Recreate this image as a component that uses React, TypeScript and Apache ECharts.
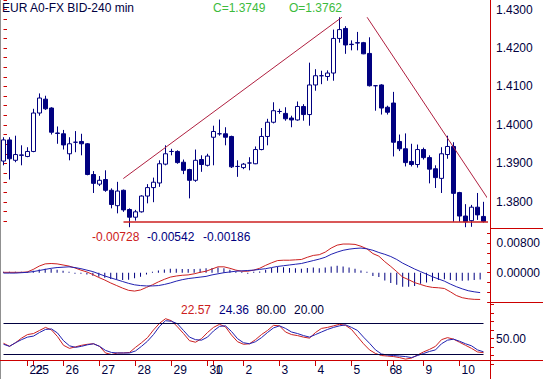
import React, { useEffect, useRef } from 'react';
import * as echarts from 'echarts';

// ---- price candles (240 min) ----
const opens = [1.3906, 1.3961, 1.3908, 1.3922, 1.3918, 1.3931, 1.4031, 1.4067, 1.4044, 1.3979,
  1.3977, 1.3925, 1.3955, 1.3957, 1.3951, 1.3871, 1.3846, 1.3858, 1.3830, 1.3790,
  1.3830, 1.3780, 1.3760, 1.3774, 1.3815, 1.3837, 1.3849, 1.3898, 1.3931, 1.3931,
  1.3903, 1.3884, 1.3856, 1.3910, 1.3895, 1.3968, 1.3977, 1.3977, 1.3970, 1.3892,
  1.3889, 1.3901, 1.3899, 1.3936, 1.3970, 1.4007, 1.4035, 1.4030, 1.4018, 1.4013,
  1.4048, 1.4027, 1.4104, 1.4128, 1.4126, 1.4135, 1.4225, 1.4251, 1.4210, 1.4214,
  1.4214, 1.4186, 1.4102, 1.4104, 1.4046, 1.4057, 1.3957, 1.3938, 1.3905, 1.3897,
  1.3936, 1.3915, 1.3886, 1.3861, 1.3923, 1.3944, 1.3824, 1.3763, 1.3751, 1.3786,
  1.3762];
const closes = [1.3961, 1.3912, 1.3923, 1.3921, 1.3931, 1.4031, 1.4070, 1.4042, 1.3981, 1.3978,
  1.3948, 1.3951, 1.3955, 1.3951, 1.3871, 1.3848, 1.3856, 1.3830, 1.3793, 1.3828,
  1.3779, 1.3760, 1.3774, 1.3815, 1.3837, 1.3851, 1.3899, 1.3925, 1.3931, 1.3902,
  1.3882, 1.3856, 1.3908, 1.3897, 1.3919, 1.3983, 1.3977, 1.3968, 1.3891, 1.3892,
  1.3898, 1.3901, 1.3936, 1.3970, 1.4007, 1.4037, 1.4035, 1.4016, 1.4013, 1.4048,
  1.4027, 1.4104, 1.4128, 1.4128, 1.4135, 1.4225, 1.4248, 1.4208, 1.4209, 1.4213,
  1.4185, 1.4102, 1.4102, 1.4044, 1.4033, 1.3955, 1.3938, 1.3902, 1.3897, 1.3936,
  1.3915, 1.3885, 1.3863, 1.3925, 1.3944, 1.3822, 1.3763, 1.3748, 1.3786, 1.3766,
  1.3749];
const lows = [1.3895, 1.3858, 1.3903, 1.3895, 1.3916, 1.3929, 1.4024, 1.4039, 1.3975, 1.3951,
  1.3936, 1.3908, 1.3929, 1.3921, 1.3869, 1.3823, 1.3841, 1.3826, 1.3783, 1.3770,
  1.3774, 1.3734, 1.3751, 1.3772, 1.3796, 1.3799, 1.3839, 1.3895, 1.3921, 1.3899,
  1.3872, 1.3809, 1.3852, 1.3878, 1.3892, 1.3895, 1.3972, 1.3947, 1.3888, 1.3865,
  1.3885, 1.3882, 1.3898, 1.3934, 1.3947, 1.4004, 1.4029, 1.4011, 1.3994, 1.4011,
  1.4011, 1.3998, 1.4089, 1.4106, 1.4115, 1.4115, 1.4214, 1.4185, 1.4194, 1.4194,
  1.4184, 1.4100, 1.4037, 1.4027, 1.4027, 1.3918, 1.3932, 1.3892, 1.3892, 1.3889,
  1.3910, 1.3848, 1.3836, 1.3823, 1.3912, 1.3748, 1.3748, 1.3734, 1.3735, 1.3753,
  1.3746];
const highs = [1.3968, 1.3968, 1.3972, 1.3947, 1.3942, 1.4042, 1.4082, 1.4076, 1.4046, 1.3996,
  1.3987, 1.3968, 1.3984, 1.3977, 1.3953, 1.3880, 1.3867, 1.3882, 1.3835, 1.3852,
  1.3832, 1.3783, 1.3779, 1.3817, 1.3846, 1.3863, 1.3908, 1.3947, 1.3938, 1.3934,
  1.3910, 1.3886, 1.3936, 1.3921, 1.3925, 1.3998, 1.4014, 1.3994, 1.3972, 1.3908,
  1.3901, 1.3916, 1.3944, 1.3992, 1.4016, 1.4059, 1.4042, 1.4046, 1.4024, 1.4061,
  1.4054, 1.4162, 1.4145, 1.4141, 1.4142, 1.4248, 1.4280, 1.4257, 1.4220, 1.4242,
  1.4216, 1.4228, 1.4103, 1.4106, 1.4050, 1.4086, 1.3975, 1.3978, 1.3951, 1.3949,
  1.3941, 1.3921, 1.3895, 1.3942, 1.3972, 1.3955, 1.3826, 1.3794, 1.3792, 1.3823,
  1.3800];

// ---- day ticks on the time axis ----
const dayTickIdx = [4, 5, 10, 16, 22, 28, 34, 35, 40, 46, 52, 58, 64, 65, 70, 76];
const dayLabels = ['22', '25', '26', '27', '28', '29', '30', '1', '2', '3', '4', '5', '6', '8', '9', '10'];

// ---- drawn lines on the price panel: [candle index, price] ----
const upTrend = [[19.97, 1.38605], [56.4, 1.42801]];
const downTrend = [[60.6, 1.42801], [80.8, 1.38062]];
const supportLine = [[20.0, 1.37475], [81.2, 1.37475]];

// ---- MACD panel ----
const macdLine = [0.0001, 0.0001, 0.0001, 0.0001, 0.0002, 0.0009, 0.0018, 0.0024, 0.0025, 0.0024,
  0.0021, 0.0018, 0.0013, 0.0007, 0.0002, -0.0005, -0.0013, -0.0020, -0.0028, -0.0035,
  -0.0042, -0.0048, -0.0050, -0.0047, -0.0040, -0.0033, -0.0025, -0.0018, -0.0012, -0.0009,
  -0.0007, -0.0006, -0.0003, 0.0001, 0.0004, 0.0010, 0.0016, 0.0016, 0.0012, 0.0007,
  0.0004, 0.0004, 0.0007, 0.0012, 0.0020, 0.0027, 0.0033, 0.0034, 0.0034, 0.0035,
  0.0036, 0.0042, 0.0047, 0.0049, 0.0056, 0.0067, 0.0075, 0.0078, 0.0078, 0.0077,
  0.0072, 0.0065, 0.0052, 0.0045, 0.0030, 0.0017, 0.0003, -0.0012, -0.0019, -0.0027,
  -0.0032, -0.0037, -0.0040, -0.0041, -0.0043, -0.0052, -0.0062, -0.0068, -0.0071, -0.00725,
  -0.00728];
const signalLine = [-0.0001, -0.0001, -0.0001, 0, 0.0001, 0.0003, 0.0006, 0.0009, 0.0012, 0.0014,
  0.0015, 0.0016, 0.0014, 0.0011, 0.0007, 0.0003, -0.0003, -0.0009, -0.0014, -0.0019,
  -0.0024, -0.0029, -0.0033, -0.0035, -0.0036, -0.0036, -0.0035, -0.0032, -0.0028, -0.0023,
  -0.0019, -0.0016, -0.0014, -0.0012, -0.0010, -0.0006, -0.0003, 0, 0.0002, 0.0004,
  0.0005, 0.0006, 0.0007, 0.0009, 0.0011, 0.0014, 0.0017, 0.0019, 0.0021, 0.0023,
  0.0025, 0.0029, 0.0033, 0.0037, 0.0042, 0.0050, 0.0056, 0.0061, 0.0064, 0.0066,
  0.0067, 0.0065, 0.0061, 0.0055, 0.0050, 0.0044, 0.0036, 0.0026, 0.0018, 0.0010,
  0.0003, -0.0004, -0.0011, -0.0017, -0.0023, -0.0031, -0.0038, -0.0044, -0.0049, -0.0052,
  -0.00542];
const macdHist = [0.0001, 0.0001, 0.0002, 0.0001, 0.0001, 0.0005, 0.0009, 0.0011, 0.0010, 0.0008,
  0.0005, 0.0002, -0.0001, -0.0003, -0.0005, -0.0008, -0.0011, -0.0014, -0.0017, -0.0019,
  -0.0020, -0.0019, -0.0015, -0.0011, -0.0005, 0.0001, 0.0006, 0.0009, 0.0011, 0.0011,
  0.0010, 0.0010, 0.0010, 0.0011, 0.0012, 0.0013, 0.0014, 0.0012, 0.0008, 0.0003,
  0, -0.0001, 0, 0.0003, 0.0008, 0.0013, 0.0016, 0.0015, 0.0013, 0.0012,
  0.0011, 0.0013, 0.0014, 0.0012, 0.0014, 0.0017, 0.0019, 0.0017, 0.0014, 0.0011,
  0.0006, 0, -0.0009, -0.0012, -0.0021, -0.0028, -0.0033, -0.0038, -0.0038, -0.0036,
  -0.0030, -0.0027, -0.0023, -0.0020, -0.0018, -0.0020, -0.0022, -0.0022, -0.0021, -0.0020,
  -0.00186];

// ---- Stochastic panel ----
const stochK = [41, 35, 42, 51, 58, 60, 66, 72, 67, 54,
  37, 31, 34, 37, 39, 40, 35, 22, 19, 22,
  22, 23, 33, 42, 52, 67, 80, 89, 85, 73,
  60, 46, 43, 50, 62, 72, 78, 73, 57, 44,
  39, 40, 48, 58, 66, 76, 75, 63, 58, 56,
  53, 51, 62, 70, 72, 75, 78, 76, 68, 54,
  40, 28, 21, 17, 16, 15, 13, 10, 12, 18,
  24, 29, 35, 48, 52, 49, 43, 37, 31, 24,
  22.57];
const stochD = [39, 35, 42, 48, 53, 55, 62, 68, 69, 61,
  46, 36, 33, 35, 38, 40, 35, 27, 23, 22,
  22, 22, 26, 35, 45, 58, 74, 85, 84, 79,
  66, 53, 48, 47, 53, 65, 74, 75, 64, 50,
  42, 40, 44, 52, 62, 71, 75, 70, 63, 60,
  56, 53, 58, 63, 68, 72, 75, 77, 72, 66,
  53, 41, 28, 20, 18, 17, 16, 15, 13, 17,
  21, 25, 28, 40, 47, 49, 45, 40, 36, 28,
  24.36];
const stochLevels = [80, 20];

const TITLE = 'EUR A0-FX BID-240 min';

const FONT = '"Liberation Sans", Arial, sans-serif';
const NAVY = '#000080';
const TXT = '#000040';
const AXRED = '#cc0000';
const LRED = '#cc2020';
const LBLUE = '#2020b0';
const GREEN = '#3cbb3c';

export default function App() {
  const ref = useRef<HTMLDivElement>(null);
  useEffect(() => {
    if (!ref.current) return;
    const chart = echarts.init(ref.current, undefined, { renderer: 'svg' });
    const N = opens.length;
    const idx = opens.map((_, i) => String(i));
    const last = N - 1;
    const near = (a: number, b: number) => Math.abs(a - b) < 1e-7;
    const gl = { left: 0.5, width: 486 };
    const tickStyle = { show: true, length: 3.5, lineStyle: { color: AXRED, width: 1 } };
    const lbl = { color: TXT, fontSize: 12, fontFamily: FONT };
    // an empty leading label keeps ECharts' min-label overlap rule away from "22"/"25"
    const labelIdx = [0, ...dayTickIdx];

    const option: any = {
      animation: false,
      backgroundColor: '#ffffff',
      grid: [
        { ...gl, top: -1.37, height: 222.41 },
        { ...gl, top: 233.5, height: 68.6 },
        { ...gl, top: 304.54, height: 59.69 },
        { ...gl, top: 302.7, height: 57.3 },
      ],
      xAxis: [
        { type: 'category', gridIndex: 0, data: idx, show: false },
        { type: 'category', gridIndex: 1, data: idx, show: false },
        { type: 'category', gridIndex: 2, data: idx, show: false },
        { type: 'value', gridIndex: 0, min: -0.5, max: N - 0.5, show: false },
        {
          type: 'category', gridIndex: 3, data: idx, position: 'bottom',
          axisLine: { show: false },
          axisTick: {
            show: true, alignWithLabel: true, length: 6,
            interval: (i: number) => dayTickIdx.indexOf(i) >= 0,
            lineStyle: { color: AXRED, width: 1 },
          },
          axisLabel: {
            ...lbl, align: 'left', margin: 4, padding: [0, 0, 0, 2],
            hideOverlap: false,
            interval: (i: number) => labelIdx.indexOf(i) >= 0,
            formatter: (_v: string, i: number) => {
              const k = dayTickIdx.indexOf(i);
              return k >= 0 ? dayLabels[k] : '';
            },
          },
          splitLine: { show: false },
        },
      ],
      yAxis: [
        {
          type: 'value', gridIndex: 0, position: 'right', offset: 4,
          min: 1.375, max: 1.4325, interval: 0.0025,
          axisLine: { show: false }, axisTick: tickStyle, splitLine: { show: false },
          axisLabel: {
            ...lbl, margin: 5.5, showMinLabel: true, showMaxLabel: true,
            formatter: (v: number) => (near(v * 100, Math.round(v * 100)) ? v.toFixed(4) : ''),
          },
        },
        {
          type: 'value', gridIndex: 1, position: 'right', offset: 4,
          min: -0.008, max: 0.032 / 3, interval: 0.008 / 3,
          axisLine: { show: false }, axisTick: tickStyle, splitLine: { show: false },
          axisLabel: {
            ...lbl, margin: 9.5,
            formatter: (v: number) => (near(v, 0.008) ? '0.00800' : near(v, 0) ? '0.00000' : ''),
          },
        },
        {
          type: 'value', gridIndex: 2, position: 'right', offset: 4,
          min: 0, max: 350 / 3, interval: 50 / 3,
          axisLine: { show: false }, axisTick: tickStyle, splitLine: { show: false },
          axisLabel: {
            ...lbl, margin: 5.5,
            formatter: (v: number) => (Math.abs(v - 50) < 1e-6 ? '50.00' : ''),
          },
        },
        { type: 'value', gridIndex: 3, min: 0, max: 1, show: false },
      ],
      series: [
        {
          type: 'candlestick', xAxisIndex: 0, yAxisIndex: 0, clip: false,
          barWidth: 5,
          data: opens.map((o, i) => [o, closes[i], lows[i], highs[i]]),
          itemStyle: {
            color: '#ffffff', color0: NAVY, borderColor: NAVY, borderColor0: NAVY,
            borderColorDoji: NAVY, borderWidth: 1,
          },
        },
        {
          type: 'line', xAxisIndex: 3, yAxisIndex: 0, data: upTrend, symbol: 'none', clip: false,
          lineStyle: { color: '#b02040', width: 1 }, silent: true,
        },
        {
          type: 'line', xAxisIndex: 3, yAxisIndex: 0, data: downTrend, symbol: 'none', clip: false,
          lineStyle: { color: '#b02040', width: 1 }, silent: true,
        },
        {
          type: 'line', xAxisIndex: 3, yAxisIndex: 0, data: supportLine, symbol: 'none', clip: false,
          lineStyle: { color: LRED, width: 1.5 }, silent: true,
        },
        {
          type: 'bar', xAxisIndex: 1, yAxisIndex: 1, data: macdHist, barWidth: 1, barMinHeight: 1,
          itemStyle: { color: NAVY }, silent: true,
        },
        {
          type: 'line', xAxisIndex: 1, yAxisIndex: 1, data: macdLine, symbol: 'none',
          lineStyle: { color: LRED, width: 1 }, silent: true,
        },
        {
          type: 'line', xAxisIndex: 1, yAxisIndex: 1, data: signalLine, symbol: 'none',
          lineStyle: { color: LBLUE, width: 1 }, silent: true,
        },
        {
          type: 'line', xAxisIndex: 2, yAxisIndex: 2, data: stochK, symbol: 'none',
          lineStyle: { color: LRED, width: 1 }, silent: true,
        },
        {
          type: 'line', xAxisIndex: 2, yAxisIndex: 2, data: stochD, symbol: 'none',
          lineStyle: { color: LBLUE, width: 1 }, silent: true,
          markLine: {
            silent: true, symbol: ['none', 'none'], label: { show: false },
            lineStyle: { color: TXT, width: 1, type: 'solid' },
            data: stochLevels.map((v) => [{ coord: [idx[0], v] }, { coord: [idx[last], v] }]),
          },
        },
      ],
      graphic: [
        { type: 'line', shape: { x1: 0.5, y1: 0, x2: 0.5, y2: 379 }, style: { stroke: '#909090', lineWidth: 1 } },
        { type: 'line', shape: { x1: 490.5, y1: 0, x2: 490.5, y2: 379 }, style: { stroke: AXRED, lineWidth: 1 } },
        { type: 'line', shape: { x1: 490.5, y1: 228.5, x2: 543, y2: 228.5 }, style: { stroke: AXRED, lineWidth: 1 } },
        { type: 'line', shape: { x1: 490.5, y1: 302.5, x2: 543, y2: 302.5 }, style: { stroke: AXRED, lineWidth: 1 } },
        { type: 'line', shape: { x1: 0, y1: 360.5, x2: 543, y2: 360.5 }, style: { stroke: AXRED, lineWidth: 1 } },
        { type: 'text', x: 2, y: 7.5, style: { text: TITLE, fill: TXT, font: `12px ${FONT}`, verticalAlign: 'middle' } },
        { type: 'text', x: 213, y: 7.5, style: { text: `C=${closes[last].toFixed(4)}`, fill: GREEN, font: `12px ${FONT}`, verticalAlign: 'middle' } },
        { type: 'text', x: 289, y: 7.5, style: { text: `O=${opens[last].toFixed(4)}`, fill: GREEN, font: `12px ${FONT}`, verticalAlign: 'middle' } },
        { type: 'text', x: 92, y: 236.5, style: { text: macdLine[last].toFixed(5), fill: LRED, font: `12px ${FONT}`, verticalAlign: 'middle' } },
        { type: 'text', x: 147, y: 236.5, style: { text: signalLine[last].toFixed(5), fill: NAVY, font: `12px ${FONT}`, verticalAlign: 'middle' } },
        { type: 'text', x: 203, y: 236.5, style: { text: macdHist[last].toFixed(5), fill: NAVY, font: `12px ${FONT}`, verticalAlign: 'middle' } },
        { type: 'text', x: 181, y: 309.5, style: { text: stochK[last].toFixed(2), fill: LRED, font: `12px ${FONT}`, verticalAlign: 'middle' } },
        { type: 'text', x: 219, y: 309.5, style: { text: stochD[last].toFixed(2), fill: NAVY, font: `12px ${FONT}`, verticalAlign: 'middle' } },
        { type: 'text', x: 256, y: 309.5, style: { text: stochLevels[0].toFixed(2), fill: TXT, font: `12px ${FONT}`, verticalAlign: 'middle' } },
        { type: 'text', x: 294, y: 309.5, style: { text: stochLevels[1].toFixed(2), fill: TXT, font: `12px ${FONT}`, verticalAlign: 'middle' } },
      ],
    };
    chart.setOption(option);
    return () => chart.dispose();
  }, []);
  return <div ref={ref} style={{ position: 'absolute', left: 0, top: 0, width: 543, height: 379 }} />;
}
